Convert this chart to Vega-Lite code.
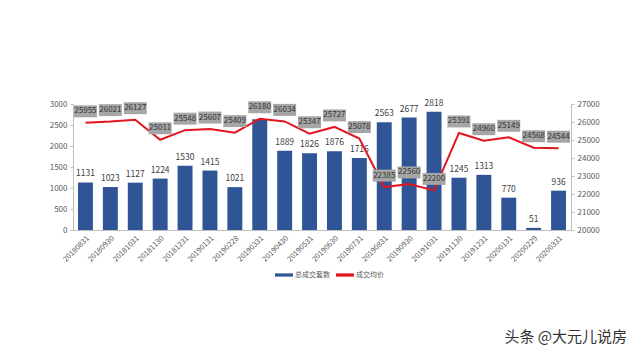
{
  "$schema": "https://vega.github.io/schema/vega-lite/v6.json",
  "width": 498,
  "height": 126,
  "autosize": {"type": "none"},
  "padding": {"left": 73, "top": 104, "right": 69, "bottom": 130},
  "background": "white",
  "config": {
    "font": "Noto Sans CJK SC",
    "view": {"stroke": null},
    "axis": {"labelColor": "#595959", "labelFontSize": 8, "domainColor": "#bfbfbf", "tickColor": "#bfbfbf", "grid": false, "title": null}
  },
  "title": {"text": "头条 @大元儿说房", "orient": "bottom", "anchor": "end", "frame": "group", "fontSize": 15, "fontWeight": "normal", "color": "#333333", "dx": 56, "dy": 48},
  "data": {"values": [
    {"date": "20180831", "count": 1131, "price": 25955},
    {"date": "20180930", "count": 1023, "price": 26021},
    {"date": "20181031", "count": 1127, "price": 26127},
    {"date": "20181130", "count": 1224, "price": 25011},
    {"date": "20181231", "count": 1530, "price": 25548},
    {"date": "20190131", "count": 1415, "price": 25607},
    {"date": "20190228", "count": 1021, "price": 25409},
    {"date": "20190331", "count": 2636, "price": 26180},
    {"date": "20190430", "count": 1889, "price": 26034},
    {"date": "20190531", "count": 1826, "price": 25347},
    {"date": "20190630", "count": 1876, "price": 25727},
    {"date": "20190731", "count": 1716, "price": 25078},
    {"date": "20190831", "count": 2563, "price": 22385},
    {"date": "20190930", "count": 2677, "price": 22560},
    {"date": "20191031", "count": 2818, "price": 22200},
    {"date": "20191130", "count": 1245, "price": 25391},
    {"date": "20191231", "count": 1313, "price": 24960},
    {"date": "20200131", "count": 770, "price": 25149},
    {"date": "20200229", "count": 51, "price": 24568},
    {"date": "20200331", "count": 936, "price": 24544}
  ]},
  "encoding": {
    "x": {"field": "date", "type": "ordinal", "sort": null, "scale": {"paddingInner": 0.4, "paddingOuter": 0.2},
      "axis": {"labelAngle": -45, "labelFontSize": 7.5, "ticks": false, "labelPadding": 4}}
  },
  "layer": [
    {
      "encoding": {"y": {"field": "count", "type": "quantitative", "scale": {"domain": [0, 3000]},
        "axis": {"values": [0, 500, 1000, 1500, 2000, 2500, 3000], "format": "d", "tickSize": 3, "labelPadding": 3, "domain": true}}},
      "layer": [
        {"mark": {"type": "bar"},
         "encoding": {"color": {"datum": "总成交套数", "type": "nominal",
           "scale": {"domain": ["总成交套数", "成交均价"], "range": ["#2f5597", "#e3161e"]},
           "legend": {"orient": "none", "legendX": 202, "legendY": 162, "direction": "horizontal", "title": null,
             "symbolType": "M-1,-0.18L1,-0.18L1,0.18L-1,0.18Z", "symbolSize": 324, "symbolStrokeWidth": 0,
             "labelFontSize": 7, "labelColor": "#595959", "columnPadding": 6, "labelOffset": 2,
             "encode": {"symbols": {"update": {"fill": {"scale": "color", "field": "value"}, "strokeWidth": {"value": 0}}}}}}}},
        {"mark": {"type": "text", "baseline": "bottom", "dy": -4, "fontSize": 8.5, "color": "#404040"},
         "encoding": {"text": {"field": "count", "type": "quantitative"}}}
      ]
    },
    {
      "encoding": {"y": {"field": "price", "type": "quantitative", "scale": {"domain": [20000, 27000], "zero": false},
        "axis": {"orient": "right", "values": [20000, 21000, 22000, 23000, 24000, 25000, 26000, 27000], "format": "d", "tickSize": 3, "labelPadding": 3}}},
      "layer": [
        {"mark": {"type": "line", "strokeWidth": 2},
         "encoding": {"color": {"datum": "成交均价", "type": "nominal"}}},
        {"mark": {"type": "point", "filled": true, "shape": "M-1,-1.52L1,-1.52L1,-0.48L-1,-0.48Z", "size": 529, "color": "#a6a6a6", "opacity": 1, "strokeWidth": 0}},
        {"mark": {"type": "text", "baseline": "middle", "dy": -11.5, "fontSize": 8, "color": "#333333"},
         "encoding": {"text": {"field": "price", "type": "quantitative", "format": "d"}}}
      ]
    }
  ],
  "resolve": {"scale": {"y": "independent"}}
}
